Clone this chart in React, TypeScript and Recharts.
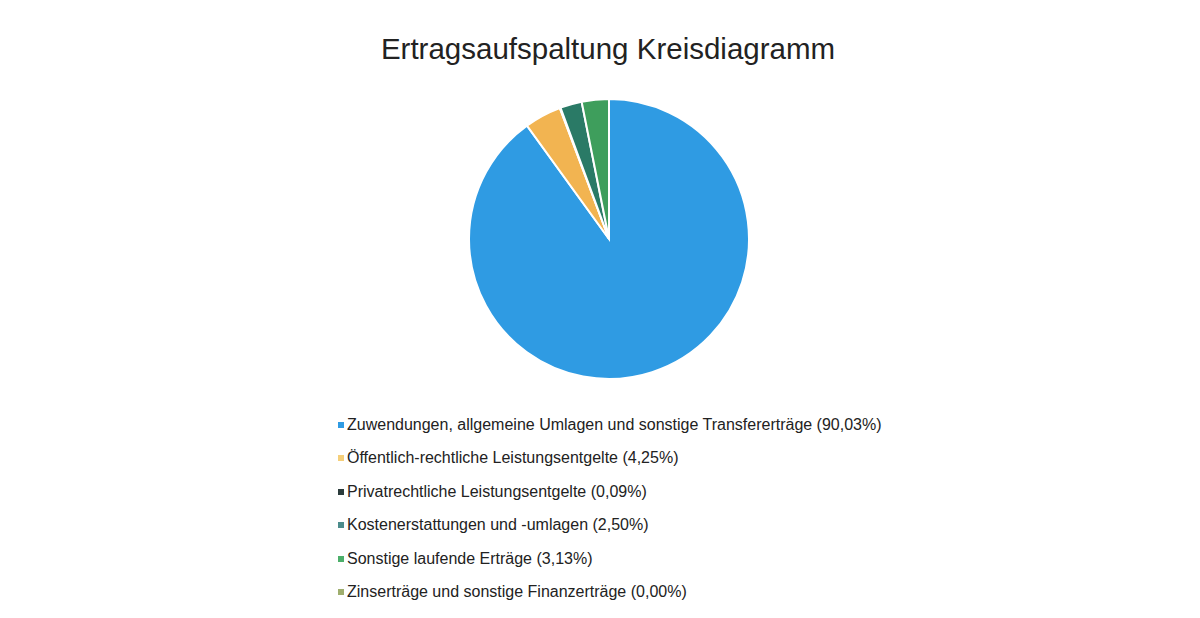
import React from "react";
import { PieChart, Pie, Cell, Legend } from "recharts";

const categories = [
  "Zuwendungen, allgemeine Umlagen und sonstige Transfererträge",
  "Öffentlich-rechtliche Leistungsentgelte",
  "Privatrechtliche Leistungsentgelte",
  "Kostenerstattungen und -umlagen",
  "Sonstige laufende Erträge",
  "Zinserträge und sonstige Finanzerträge",
];
const shares = [90.03, 4.25, 0.09, 2.5, 3.13, 0.0];
const colors = ["#2F9BE3", "#F2B451", "#1F3D38", "#2A7A66", "#3E9E5C", "#9FAE6E"];
const legendColors = ["#2F9BE3", "#F5CF7A", "#2B3B3B", "#4C8C8C", "#4CAF6A", "#9FAE6E"];

const data = categories.map((name, i) => ({ name, value: shares[i] }));

const fmt = (v: number) => v.toFixed(2).replace(".", ",") + "%";

function LegendList() {
  return (
    <div style={{ fontFamily: "'Liberation Sans', Arial, sans-serif", fontSize: 16, color: "#222" }}>
      {data.map((d, i) => (
        <div key={d.name} style={{ display: "flex", alignItems: "center", height: 33.5 }}>
          <span
            style={{
              display: "inline-block",
              width: 6,
              height: 6,
              background: legendColors[i],
              marginRight: 3,
            }}
          />
          {d.name} ({fmt(d.value)})
        </div>
      ))}
    </div>
  );
}

export default function App() {
  return (
    <div style={{ position: "absolute", left: 0, top: 0, width: 1200, height: 618, background: "#fff" }}>
      <div
        style={{
          position: "absolute",
          top: 32,
          width: 1200,
          textAlign: "center",
          fontFamily: "'Liberation Sans', Arial, sans-serif",
          fontSize: 29.5,
          color: "#222",
          paddingLeft: 16,
          boxSizing: "border-box",
        }}
      >
        Ertragsaufspaltung Kreisdiagramm
      </div>
      <PieChart width={1200} height={618}>
        <Pie
          data={data}
          dataKey="value"
          nameKey="name"
          cx={604}
          cy={234}
          outerRadius={140}
          startAngle={90}
          endAngle={-270}
          stroke="#fff"
          strokeWidth={2}
          isAnimationActive={false}
        >
          {data.map((d, i) => (
            <Cell key={d.name} fill={colors[i]} />
          ))}
        </Pie>
        <Legend
          layout="vertical"
          content={() => <LegendList />}
          wrapperStyle={{ left: 338, top: 408, width: 620 }}
        />
      </PieChart>
    </div>
  );
}
